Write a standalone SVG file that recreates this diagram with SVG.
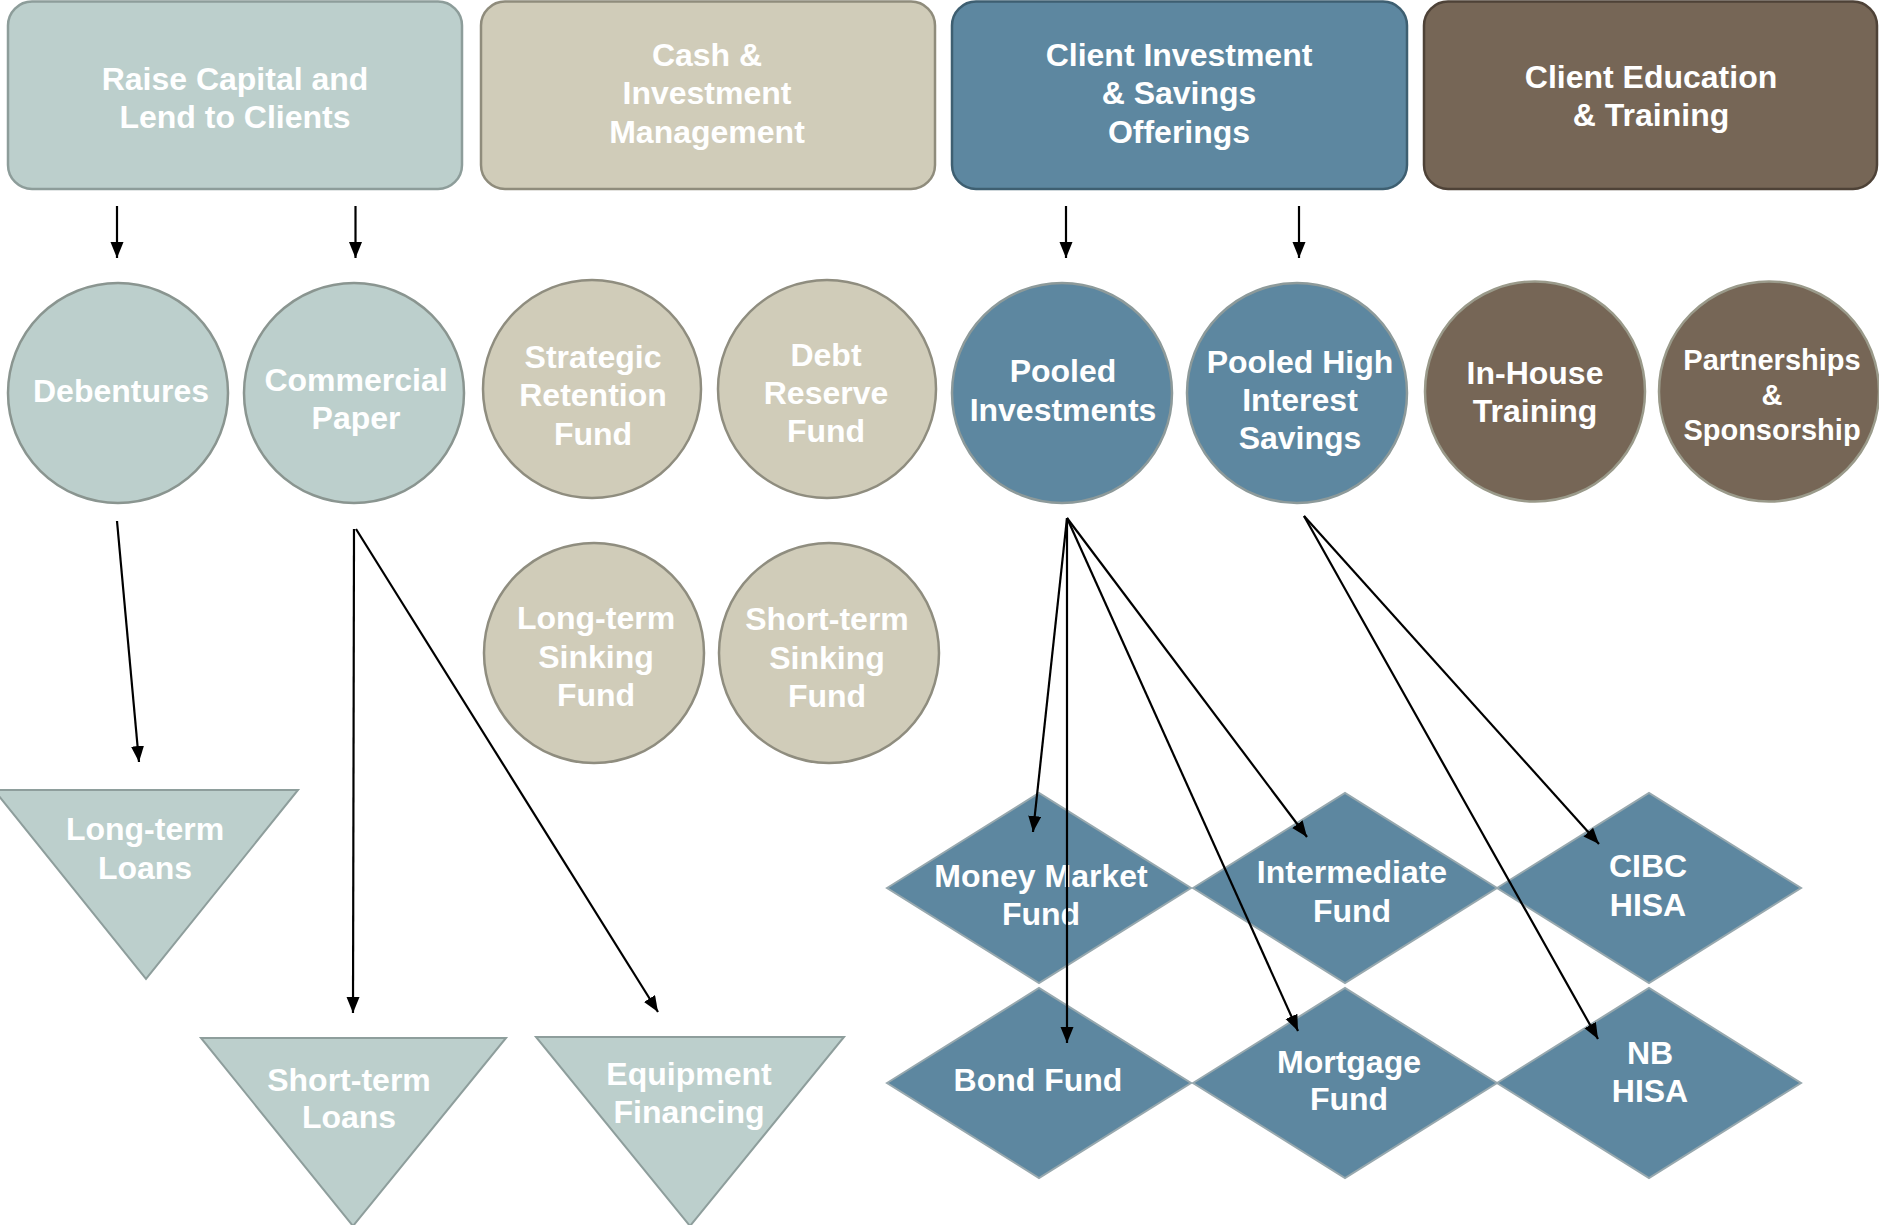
<svg xmlns="http://www.w3.org/2000/svg" width="1879" height="1225" viewBox="0 0 1879 1225">
<style>
text{font-family:"Liberation Sans",Arial,sans-serif;font-weight:bold;font-size:32px;fill:#ffffff;text-anchor:middle}
.sm{font-size:29px}
.g1{fill:#bccfcc;stroke:#8d9d9a;stroke-width:2.5}
.g2{fill:#d0ccb9;stroke:#8f8c7c;stroke-width:2.5}
.g3{fill:#5d87a0;stroke:#3e5f71;stroke-width:2.5}
.g4{fill:#766656;stroke:#4e4237;stroke-width:2.5}
.c1{fill:#bccfcc;stroke:#8a9590;stroke-width:2.5}
.c2{fill:#d0ccb9;stroke:#8f8d7f;stroke-width:2.5}
.c3{fill:#5d87a0;stroke:#8d9a9a;stroke-width:2.5}
.c4{fill:#766656;stroke:#9a9a8a;stroke-width:2.5}
.t1{fill:#bccfcc;stroke:#8e9e9c;stroke-width:2}
.d3{fill:#5d87a0;stroke:#97a8ae;stroke-width:2}
.ln{stroke:#000;stroke-width:2.2;fill:none;marker-end:url(#ah)}
</style>
<defs>
<marker id="ah" markerUnits="userSpaceOnUse" markerWidth="18" markerHeight="14" refX="16" refY="6.5" orient="auto">
<path d="M0,0 L16,6.5 L0,13 z" fill="#000"/>
</marker>
</defs>
<rect width="1879" height="1225" fill="#ffffff"/>
<g id="box-raise"><rect class="g1" x="8" y="1.5" width="454" height="187.5" rx="24"/><text x="235" y="90">Raise Capital and</text><text x="235" y="128">Lend to Clients</text></g>
<g id="box-cash"><rect class="g2" x="481" y="1.5" width="454" height="187.5" rx="24"/><text x="707" y="66">Cash &amp;</text><text x="707" y="104">Investment</text><text x="707" y="143">Management</text></g>
<g id="box-client"><rect class="g3" x="952" y="1.5" width="455" height="187.5" rx="24"/><text x="1179" y="66">Client Investment</text><text x="1179" y="104">&amp; Savings</text><text x="1179" y="143">Offerings</text></g>
<g id="box-edu"><rect class="g4" x="1424" y="1.5" width="453" height="187.5" rx="24"/><text x="1651" y="88">Client Education</text><text x="1651" y="126">&amp; Training</text></g>

<g id="debentures"><circle class="c1" cx="118" cy="393" r="110"/><text x="121" y="402">Debentures</text></g>
<g id="commercial-paper"><circle class="c1" cx="354" cy="393" r="110"/><text x="356" y="391">Commercial</text><text x="356" y="429">Paper</text></g>
<g id="strategic-retention"><circle class="c2" cx="592" cy="389" r="109"/><text x="593" y="368">Strategic</text><text x="593" y="406">Retention</text><text x="593" y="445">Fund</text></g>
<g id="debt-reserve"><circle class="c2" cx="827" cy="389" r="109"/><text x="826" y="366">Debt</text><text x="826" y="404">Reserve</text><text x="826" y="442">Fund</text></g>
<g id="pooled-investments"><circle class="c3" cx="1062" cy="393" r="110"/><text x="1063" y="382">Pooled</text><text x="1063" y="421">Investments</text></g>
<g id="pooled-high"><circle class="c3" cx="1297" cy="393" r="110"/><text x="1300" y="373">Pooled High</text><text x="1300" y="411">Interest</text><text x="1300" y="449">Savings</text></g>
<g id="in-house"><circle class="c4" cx="1535" cy="391.5" r="110"/><text x="1535" y="384">In-House</text><text x="1535" y="422">Training</text></g>
<g id="partnerships"><circle class="c4" cx="1769" cy="391.5" r="110"/><text class="sm" x="1772" y="370">Partnerships</text><text class="sm" x="1772" y="405">&amp;</text><text class="sm" x="1772" y="440">Sponsorship</text></g>
<g id="lt-sinking"><circle class="c2" cx="594" cy="653" r="110"/><text x="596" y="629">Long-term</text><text x="596" y="668">Sinking</text><text x="596" y="706">Fund</text></g>
<g id="st-sinking"><circle class="c2" cx="829" cy="653" r="110"/><text x="827" y="630">Short-term</text><text x="827" y="669">Sinking</text><text x="827" y="707">Fund</text></g>

<g id="lt-loans"><polygon class="t1" points="-6,790 298,790 146,979"/><text x="145" y="840">Long-term</text><text x="145" y="879">Loans</text></g>
<g id="st-loans"><polygon class="t1" points="201,1038 506,1038 353,1226"/><text x="349" y="1091">Short-term</text><text x="349" y="1128">Loans</text></g>
<g id="equipment"><polygon class="t1" points="536,1037 844,1037 690,1226"/><text x="689" y="1085">Equipment</text><text x="689" y="1123">Financing</text></g>

<g id="money-market"><polygon class="d3" points="887,888 1039,793 1191,888 1039,983"/><text x="1041" y="887">Money Market</text><text x="1041" y="925">Fund</text></g>
<g id="intermediate"><polygon class="d3" points="1193,888 1345,793 1497,888 1345,983"/><text x="1352" y="883">Intermediate</text><text x="1352" y="922">Fund</text></g>
<g id="cibc"><polygon class="d3" points="1497,888 1649,793 1801,888 1649,983"/><text x="1648" y="877">CIBC</text><text x="1648" y="916">HISA</text></g>
<g id="bond"><polygon class="d3" points="887,1083 1039,988 1191,1083 1039,1178"/><text x="1038" y="1091">Bond Fund</text></g>
<g id="mortgage"><polygon class="d3" points="1193,1083 1345,988 1497,1083 1345,1178"/><text x="1349" y="1073">Mortgage</text><text x="1349" y="1110">Fund</text></g>
<g id="nb"><polygon class="d3" points="1497,1083 1649,988 1801,1083 1649,1178"/><text x="1650" y="1064">NB</text><text x="1650" y="1102">HISA</text></g>

<g id="connectors">
<line class="ln" x1="117" y1="206" x2="117" y2="258"/>
<line class="ln" x1="355.5" y1="206" x2="355.5" y2="258"/>
<line class="ln" x1="1066" y1="206" x2="1066" y2="258"/>
<line class="ln" x1="1299" y1="206" x2="1299" y2="258"/>
<line class="ln" x1="117" y1="521" x2="139" y2="762"/>
<line class="ln" x1="354" y1="529" x2="353" y2="1013"/>
<line class="ln" x1="356" y1="529" x2="658" y2="1012"/>
<line class="ln" x1="1067" y1="518" x2="1033" y2="832"/>
<line class="ln" x1="1067" y1="518" x2="1067" y2="1043"/>
<line class="ln" x1="1067" y1="518" x2="1298" y2="1031"/>
<line class="ln" x1="1067" y1="518" x2="1307" y2="837"/>
<line class="ln" x1="1304" y1="516" x2="1599" y2="844"/>
<line class="ln" x1="1304" y1="516" x2="1598" y2="1039"/>
</g>
</svg>
